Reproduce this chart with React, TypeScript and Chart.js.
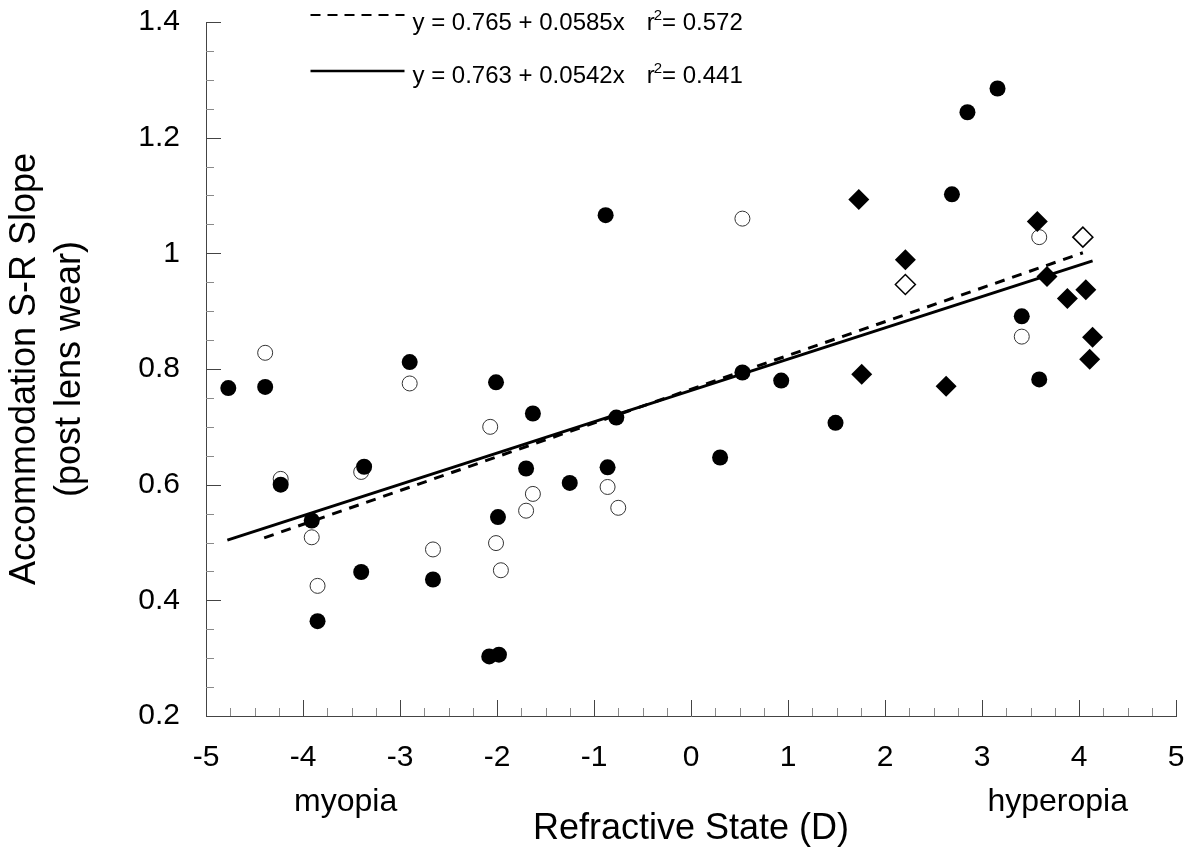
import React, { useEffect, useRef } from 'react';
import { Chart, registerables } from 'chart.js';

Chart.register(...registerables);

const FONT = '"Liberation Sans", Arial, Helvetica, sans-serif';

// Filled circles
const filledCircleX = [-4.77, -4.39, -4.23, -3.91, -3.85, -3.37, -3.4, -2.9, -2.66, -2.08, -1.98, -1.99, -2.01, -1.7, -1.63, -1.25, -0.88, -0.86, -0.77, 0.3, 0.53, 0.93, 1.49, 2.69, 2.85, 3.16, 3.41, 3.59];
const filledCircleY = [0.767, 0.769, 0.6, 0.538, 0.364, 0.631, 0.449, 0.812, 0.436, 0.303, 0.306, 0.544, 0.777, 0.628, 0.723, 0.603, 1.066, 0.63, 0.716, 0.647, 0.794, 0.78, 0.707, 1.102, 1.244, 1.285, 0.891, 0.782];

// Open circles
const openCircleX = [-4.39, -4.23, -3.91, -3.85, -3.4, -2.9, -2.66, -2.07, -2.01, -1.96, -1.7, -1.63, -0.86, -0.75, 0.53, 3.41, 3.59];
const openCircleY = [0.828, 0.61, 0.509, 0.425, 0.622, 0.775, 0.488, 0.7, 0.499, 0.452, 0.555, 0.584, 0.596, 0.56, 1.06, 0.856, 1.028];

// Filled diamonds
const filledDiamondX = [1.73, 1.76, 2.21, 2.63, 3.57, 3.67, 3.88, 4.07, 4.14, 4.11];
const filledDiamondY = [1.093, 0.791, 0.989, 0.77, 1.055, 0.96, 0.922, 0.937, 0.855, 0.817];

// Open diamonds
const openDiamondX = [2.21, 4.04];
const openDiamondY = [0.946, 1.028];

// Regression lines (end points)
const dashedLineX = [-4.4, 4.04];
const dashedLineY = [0.508, 1.001];
const solidLineX = [-4.78, 4.14];
const solidLineY = [0.504, 0.987];

// Legend texts
const legendEquations = ['y = 0.765 + 0.0585x', 'y = 0.763 + 0.0542x'];
const legendR2 = ['= 0.572', '= 0.441'];

// Axis texts
const xTitle = 'Refractive State (D)';
const yTitle = ['Accommodation S-R Slope', '(post lens wear)'];
const sideLabels = ['myopia', 'hyperopia'];
const sideLabelX = [-3.56, 3.78];

const xMin = -5, xMax = 5, xStep = 1, xMinorPerMajor = 4;
const yMin = 0.2, yMax = 1.4, yStep = 0.2, yMinorPerMajor = 4;

const toPoints = (xs: number[], ys: number[]) => xs.map((x, i) => ({ x, y: ys[i] }));

const decorPlugin = {
  id: 'decor',
  afterDraw(chart: any) {
    const { ctx, chartArea } = chart;
    const xs = chart.scales.x;
    const ys = chart.scales.y;
    ctx.save();
    ctx.lineWidth = 1;
    // y-axis inward ticks
    const yCount = Math.round((yMax - yMin) / yStep) * yMinorPerMajor;
    for (let i = 1; i <= yCount; i++) {
      const v = yMin + (i * yStep) / yMinorPerMajor;
      const major = i % yMinorPerMajor === 0;
      const py = Math.round(ys.getPixelForValue(v)) + 0.5;
      const len = major ? 15 : 8;
      ctx.strokeStyle = major ? '#444' : '#8a8a8a';
      ctx.beginPath();
      ctx.moveTo(chartArea.left, py);
      ctx.lineTo(chartArea.left + len, py);
      ctx.stroke();
    }
    // x-axis inward ticks
    const xCount = Math.round((xMax - xMin) / xStep) * xMinorPerMajor;
    for (let j = 1; j <= xCount; j++) {
      const v = xMin + (j * xStep) / xMinorPerMajor;
      const major = j % xMinorPerMajor === 0;
      const px = Math.round(xs.getPixelForValue(v)) + 0.5;
      const len = major ? 16 : 8;
      ctx.strokeStyle = major ? '#444' : '#8a8a8a';
      ctx.beginPath();
      ctx.moveTo(px, chartArea.bottom);
      ctx.lineTo(px, chartArea.bottom - len);
      ctx.stroke();
    }

    // Side labels: myopia / hyperopia
    ctx.fillStyle = '#000';
    ctx.font = `32px ${FONT}`;
    ctx.textAlign = 'center';
    ctx.textBaseline = 'alphabetic';
    sideLabels.forEach((t, i) => {
      ctx.fillText(t, xs.getPixelForValue(sideLabelX[i]), chartArea.bottom + 95);
    });

    // Legend
    const lineStart = chartArea.left + 104.5;
    const lineEnd = chartArea.left + 198.5;
    const textStart = chartArea.left + 206.5;
    const rowLineY = [chartArea.top - 7, chartArea.top + 49];
    const rowTextY = [chartArea.top + 8, chartArea.top + 61];
    ctx.strokeStyle = '#000';
    // dashed
    ctx.lineWidth = 2;
    ctx.setLineDash([10, 7]);
    ctx.beginPath();
    ctx.moveTo(lineStart, rowLineY[0]);
    ctx.lineTo(lineEnd, rowLineY[0]);
    ctx.stroke();
    // solid
    ctx.setLineDash([]);
    ctx.lineWidth = 2.5;
    ctx.beginPath();
    ctx.moveTo(lineStart, rowLineY[1]);
    ctx.lineTo(lineEnd, rowLineY[1]);
    ctx.stroke();

    ctx.textAlign = 'left';
    ctx.textBaseline = 'alphabetic';
    legendEquations.forEach((eq, i) => {
      const y = rowTextY[i];
      ctx.font = `24px ${FONT}`;
      ctx.fillText(eq, textStart, y);
      let x = textStart + ctx.measureText(eq).width + 22;
      ctx.fillText('r', x, y);
      x += ctx.measureText('r').width - 1;
      ctx.font = `15px ${FONT}`;
      ctx.fillText('2', x, y - 10);
      x += ctx.measureText('2').width;
      ctx.font = `24px ${FONT}`;
      ctx.fillText(legendR2[i], x, y);
    });
    ctx.restore();
  },
};

export default function App() {
  const canvasRef = useRef<HTMLCanvasElement | null>(null);

  useEffect(() => {
    const canvas = canvasRef.current;
    if (!canvas) return;
    const chart = new Chart(canvas, {
      type: 'scatter',
      data: {
        datasets: [
          {
            label: 'fit dashed',
            data: toPoints(dashedLineX, dashedLineY),
            showLine: true,
            borderColor: '#000',
            borderWidth: 3,
            borderDash: [10, 8],
            pointRadius: 0,
            fill: false,
          },
          {
            label: 'fit solid',
            data: toPoints(solidLineX, solidLineY),
            showLine: true,
            borderColor: '#000',
            borderWidth: 3,
            pointRadius: 0,
            fill: false,
          },
          {
            label: 'filled circles',
            data: toPoints(filledCircleX, filledCircleY),
            pointStyle: 'circle',
            pointRadius: 8,
            backgroundColor: '#000',
            borderColor: '#000',
            borderWidth: 0,
          },
          {
            label: 'filled diamonds',
            data: toPoints(filledDiamondX, filledDiamondY),
            pointStyle: 'rectRot',
            pointRadius: 10.5,
            backgroundColor: '#000',
            borderColor: '#000',
            borderWidth: 0,
          },
          {
            label: 'open circles',
            data: toPoints(openCircleX, openCircleY),
            pointStyle: 'circle',
            pointRadius: 7.5,
            backgroundColor: '#fff',
            borderColor: '#333',
            borderWidth: 1,
          },
          {
            label: 'open diamonds',
            data: toPoints(openDiamondX, openDiamondY),
            pointStyle: 'rectRot',
            pointRadius: 10,
            backgroundColor: '#fff',
            borderColor: '#000',
            borderWidth: 1.5,
          },
        ],
      },
      options: {
        responsive: false,
        animation: false,
        events: [],
        layout: { padding: { left: 0, top: 22, right: 28, bottom: 0 } },
        plugins: {
          legend: { display: false },
          tooltip: { enabled: false },
        },
        scales: {
          x: {
            type: 'linear',
            min: xMin,
            max: xMax,
            ticks: {
              stepSize: xStep,
              color: '#000',
              font: { family: FONT, size: 30 },
              padding: 24,
              maxRotation: 0,
              autoSkip: false,
            },
            grid: { display: false, drawTicks: false },
            border: { display: true, color: '#444', width: 1 },
            title: {
              display: true,
              text: xTitle,
              color: '#000',
              font: { family: FONT, size: 36 },
              padding: { top: 0, bottom: 0 },
            },
            afterFit(scale: any) {
              scale.height = 135;
              scale.paddingLeft = 0;
              scale.paddingRight = 0;
            },
          },
          y: {
            type: 'linear',
            min: yMin,
            max: yMax,
            ticks: {
              stepSize: yStep,
              color: '#000',
              font: { family: FONT, size: 30 },
              padding: 26,
              callback: (v: any) => String(Math.round(Number(v) * 10) / 10),
            },
            grid: { display: false, drawTicks: false },
            border: { display: true, color: '#444', width: 1 },
            title: {
              display: true,
              text: yTitle,
              color: '#000',
              font: { family: FONT, size: 36, lineHeight: 1.25 },
              padding: { top: 3, bottom: 0 },
            },
            afterFit(scale: any) {
              scale.width = 206;
              scale.paddingTop = 0;
              scale.paddingBottom = 0;
            },
          },
        },
      },
      plugins: [decorPlugin],
    });
    return () => chart.destroy();
  }, []);

  return (
    <div style={{ position: 'fixed', left: 0, top: 0, width: 1204, height: 851, background: '#fff' }}>
      <canvas ref={canvasRef} width={1204} height={851} style={{ display: 'block' }} />
    </div>
  );
}
